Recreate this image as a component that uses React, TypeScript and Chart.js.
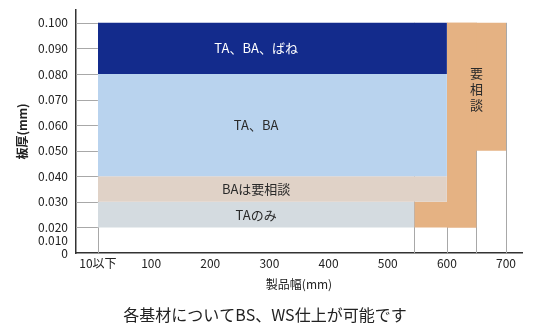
import React, { useEffect, useRef } from 'react';
import { Chart, registerables, LinearScale } from 'chart.js';

Chart.register(...registerables);

// ---- piecewise thickness axis: 0–0.020 drawn at half the scale of 0.020–0.100 ----
const BREAK = 0.02;
const RATIO = 0.5;
const fwd = (v: number) => (v <= BREAK ? v * RATIO : BREAK * RATIO + (v - BREAK));
const inv = (u: number) => (u <= BREAK * RATIO ? u / RATIO : BREAK + (u - BREAK * RATIO));

class BrokenLinearScale extends LinearScale {
  static id = 'brokenLinear';
  static defaults = LinearScale.defaults;
  getPixelForValue(value: number) {
    const a = fwd(this.min);
    const b = fwd(this.max);
    return this.getPixelForDecimal((fwd(value) - a) / (b - a));
  }
  getValueForPixel(pixel: number) {
    const a = fwd(this.min);
    const b = fwd(this.max);
    return inv(a + this.getDecimalForPixel(pixel) * (b - a));
  }
}
Chart.register(BrokenLinearScale as any);

// ---------------- data ----------------
const bandLabels = ['TA、BA、ばね', 'TA、BA', 'BAは要相談', 'TAのみ'];
const bandWidthFrom = [10, 10, 10, 10];
const bandWidthTo = [600, 600, 600, 545];
const bandThickFrom = [0.08, 0.04, 0.03, 0.02];
const bandThickTo = [0.1, 0.08, 0.04, 0.03];

const consultLabel = '要相談';
const consultWidthFrom = [545, 600, 600];
const consultWidthTo = [650, 650, 700];
const consultThickFrom = [0.02, 0.02, 0.05];
const consultThickTo = [0.03, 0.1, 0.1];

const xTickValues = [10, 100, 200, 300, 400, 500, 600, 700];
const xTickLabels = ['10以下', '100', '200', '300', '400', '500', '600', '700'];
const yTickValues = [0, 0.01, 0.02, 0.03, 0.04, 0.05, 0.06, 0.07, 0.08, 0.09, 0.1];
const yTickLabels = ['0', '0.010', '0.020', '0.030', '0.040', '0.050', '0.060', '0.070', '0.080', '0.090', '0.100'];

const gridColumns = [10, 545, 600, 650, 700];
const gridRows = [0.02, 0.03, 0.04, 0.05, 0.06, 0.07, 0.08, 0.09, 0.1];

const xTitle = '製品幅(mm)';
const yTitle = '板厚(mm)';
const caption = '各基材についてBS、WS仕上が可能です';

// ---------------- styles ----------------
const FONT = '"Noto Sans CJK JP", "Noto Sans", sans-serif';
const bandColors = ['#132b8c', '#b9d3ee', '#e0d2c7', '#d4dbe0'];
const bandTextColors = ['#ffffff', '#2a2a2a', '#2a2a2a', '#2a2a2a'];
const consultColor = '#e5b283';
const GRID_COLOR = '#a8a8a8';
const AXIS_COLOR = '#333333';
const TEXT_COLOR = '#222222';

const rectDataset = (label: string, x0: number, x1: number, y0: number, y1: number, color: string) => ({
  label,
  data: [
    { x: x0, y: y1 },
    { x: x1, y: y1 },
  ],
  fill: { value: y0 },
  backgroundColor: color,
  borderColor: 'transparent',
  borderWidth: 0,
  pointRadius: 0,
  pointHoverRadius: 0,
  tension: 0,
});

const gridPlugin = {
  id: 'tableGrid',
  beforeDatasetsDraw(chart: any) {
    const { ctx, chartArea, scales } = chart;
    const xs = scales.x;
    const ys = scales.y;
    ctx.save();
    ctx.strokeStyle = GRID_COLOR;
    ctx.lineWidth = 1;
    const xEnd = xs.getPixelForValue(gridColumns[0]);
    gridRows.forEach((v) => {
      const y = Math.round(ys.getPixelForValue(v)) + 0.5;
      ctx.beginPath();
      ctx.moveTo(chartArea.left, y);
      ctx.lineTo(xEnd, y);
      ctx.stroke();
    });
    const yBottom = ys.getPixelForValue(0);
    const yTop = ys.getPixelForValue(gridRows[gridRows.length - 1]);
    gridColumns.forEach((v) => {
      const x = Math.round(xs.getPixelForValue(v)) + 0.5;
      ctx.beginPath();
      ctx.moveTo(x, yBottom);
      ctx.lineTo(x, yTop);
      ctx.stroke();
    });
    ctx.restore();
  },
};

const textPlugin = {
  id: 'regionText',
  afterDatasetsDraw(chart: any) {
    const { ctx, scales } = chart;
    const xs = scales.x;
    const ys = scales.y;
    ctx.save();
    ctx.font = `13px ${FONT}`;
    ctx.textAlign = 'center';
    ctx.textBaseline = 'middle';
    // band labels are centred over the width range common to all bands
    const commonFrom = Math.max(...bandWidthFrom);
    const commonTo = Math.min(...bandWidthTo);
    const lx = (xs.getPixelForValue(commonFrom) + xs.getPixelForValue(commonTo)) / 2;
    bandLabels.forEach((label, i) => {
      const y = (ys.getPixelForValue(bandThickFrom[i]) + ys.getPixelForValue(bandThickTo[i])) / 2;
      ctx.fillStyle = bandTextColors[i];
      ctx.fillText(label, lx, y);
    });
    const k = consultWidthFrom.length - 1;
    const cx = (xs.getPixelForValue(consultWidthFrom[k]) + xs.getPixelForValue(consultWidthTo[k])) / 2;
    const cy = (ys.getPixelForValue(consultThickFrom[k]) + ys.getPixelForValue(consultThickTo[k])) / 2;
    const chars = Array.from(consultLabel);
    const step = 16;
    ctx.fillStyle = '#2a2a2a';
    chars.forEach((ch, j) => {
      ctx.fillText(ch, cx, cy + 2 + (j - (chars.length - 1) / 2) * step);
    });
    ctx.restore();
  },
};

export default function App() {
  const ref = useRef<HTMLCanvasElement | null>(null);

  useEffect(() => {
    if (!ref.current) return;
    const datasets: any[] = [];
    bandLabels.forEach((label, i) => {
      datasets.push(rectDataset(label, bandWidthFrom[i], bandWidthTo[i], bandThickFrom[i], bandThickTo[i], bandColors[i]));
    });
    consultWidthFrom.forEach((_, i) => {
      datasets.push(rectDataset(consultLabel, consultWidthFrom[i], consultWidthTo[i], consultThickFrom[i], consultThickTo[i], consultColor));
    });

    const chart = new Chart(ref.current, {
      type: 'line',
      data: { datasets },
      plugins: [gridPlugin, textPlugin],
      options: {
        animation: false,
        responsive: false,
        devicePixelRatio: 1,
        events: [],
        layout: { padding: { top: 2, right: 6, bottom: 0, left: 0 } },
        plugins: {
          legend: { display: false },
          tooltip: { enabled: false },
          title: {
            display: true,
            position: 'bottom',
            text: caption,
            color: TEXT_COLOR,
            font: { family: FONT, size: 16, weight: 'normal' },
            padding: { top: 2, bottom: 1 },
          },
        },
        scales: {
          x: {
            type: 'linear',
            min: -27,
            max: 727,
            grid: { display: false, drawTicks: false },
            border: { display: true, color: AXIS_COLOR, width: 1.5 },
            afterBuildTicks: (scale: any) => {
              scale.ticks = xTickValues.map((v) => ({ value: v }));
            },
            afterFit: (scale: any) => {
              scale.height = 50.8;
              scale.paddingLeft = 0;
              scale.paddingRight = 0;
            },
            ticks: {
              autoSkip: false,
              maxRotation: 0,
              padding: 3,
              color: TEXT_COLOR,
              font: { family: FONT, size: 12 },
              callback: (_v: any, i: number) => xTickLabels[i],
            },
            title: {
              display: true,
              text: xTitle,
              color: TEXT_COLOR,
              font: { family: FONT, size: 12 },
              padding: { top: 0, bottom: 12.6 },
            },
          },
          y: {
            type: 'brokenLinear' as any,
            min: 0,
            max: 0.105,
            grid: { display: false, drawTicks: false },
            border: { display: true, color: AXIS_COLOR, width: 1.5 },
            afterBuildTicks: (scale: any) => {
              scale.ticks = yTickValues.map((v) => ({ value: v }));
            },
            afterFit: (scale: any) => {
              scale.width = 68;
              scale.paddingTop = 0;
              scale.paddingBottom = 0;
            },
            ticks: {
              autoSkip: false,
              padding: 8,
              color: TEXT_COLOR,
              font: { family: FONT, size: 12 },
              callback: (_v: any, i: number) => yTickLabels[i],
            },
            title: {
              display: true,
              text: yTitle,
              color: TEXT_COLOR,
              font: { family: FONT, size: 12, weight: 'bold' },
              padding: { top: 7, bottom: 0 },
            },
          },
        },
      } as any,
    });
    return () => chart.destroy();
  }, []);

  return <canvas ref={ref} width={520} height={318} style={{ display: 'block' }} />;
}
